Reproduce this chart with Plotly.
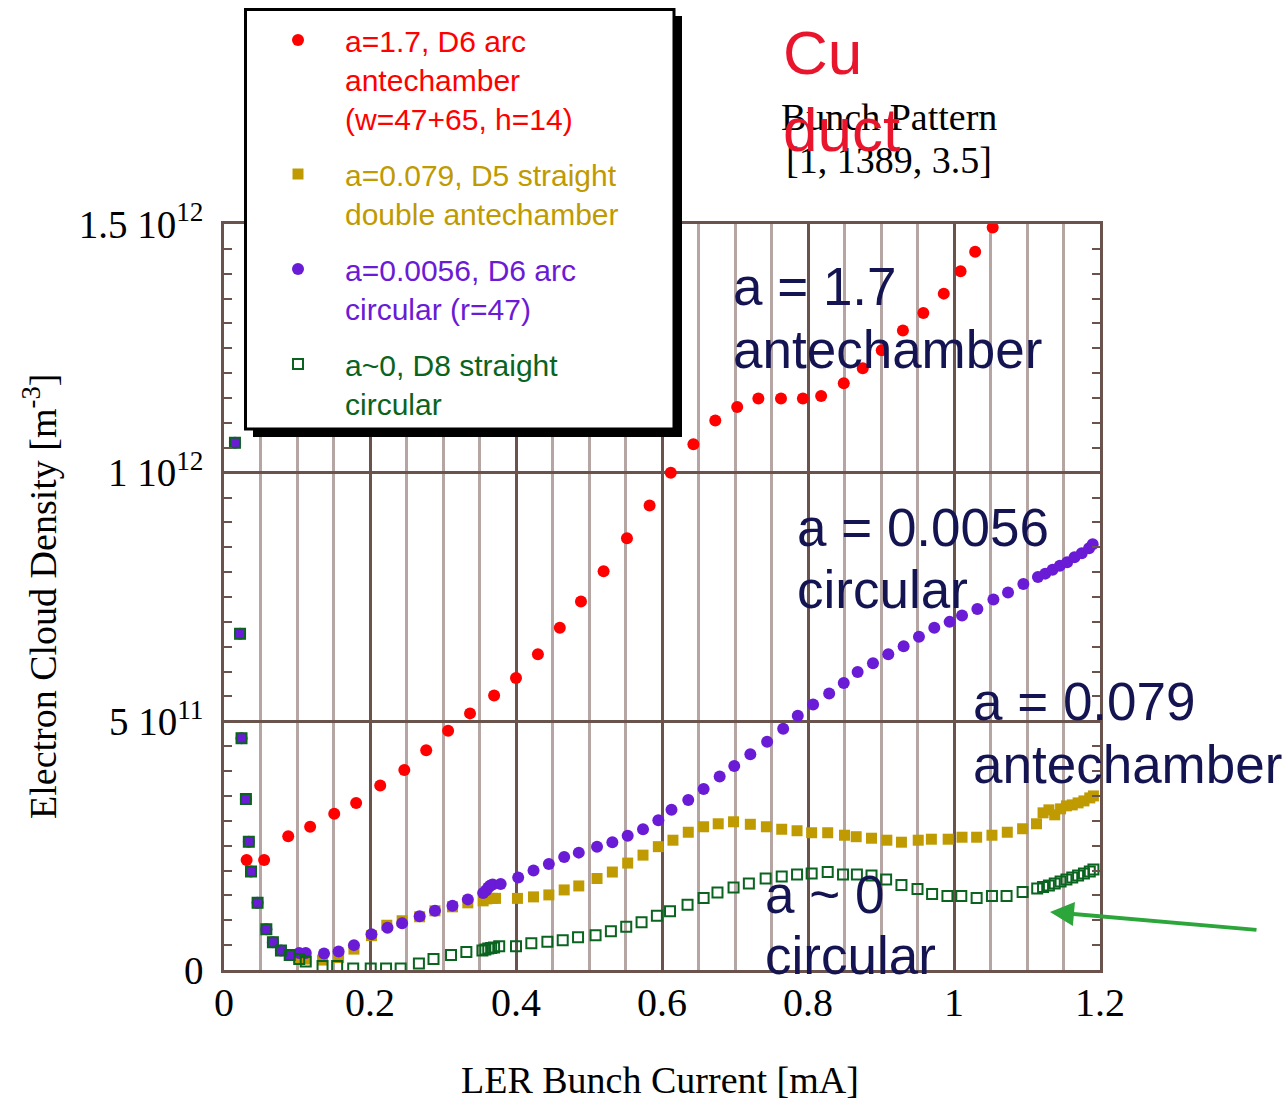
import plotly.graph_objects as go

# ---------------------------------------------------------------------------
# Data: LER bunch current [mA] vs electron cloud density (units of 1e12 m^-3)
# ---------------------------------------------------------------------------
SCALE = 1e12

# a=1.7, D6 arc antechamber
red_x = [0.031, 0.055, 0.088, 0.118, 0.151, 0.181, 0.214, 0.247, 0.277, 0.307,
         0.337, 0.370, 0.400, 0.430, 0.460, 0.489, 0.520, 0.552, 0.583, 0.612,
         0.643, 0.673, 0.703, 0.732, 0.763, 0.793, 0.818, 0.849, 0.875, 0.901,
         0.930, 0.958, 0.986, 1.009, 1.029, 1.053]
red_y = [0.221, 0.221, 0.269, 0.288, 0.314, 0.336, 0.371, 0.402, 0.442, 0.481,
         0.516, 0.552, 0.587, 0.635, 0.688, 0.741, 0.802, 0.868, 0.934, 1.000,
         1.057, 1.105, 1.132, 1.149, 1.149, 1.149, 1.154, 1.180, 1.210, 1.246,
         1.286, 1.321, 1.360, 1.405, 1.444, 1.493]

# a=0.079, D5 straight double antechamber
gold_x = [0.015, 0.022, 0.024, 0.030, 0.034, 0.037, 0.046, 0.058, 0.067, 0.078,
          0.090, 0.103, 0.112, 0.135, 0.157, 0.178, 0.202, 0.223, 0.244, 0.268,
          0.289, 0.313, 0.334, 0.355, 0.360, 0.364, 0.368, 0.372, 0.402, 0.424,
          0.445, 0.466, 0.486, 0.511, 0.532, 0.553, 0.574, 0.595, 0.615, 0.636,
          0.657, 0.677, 0.698, 0.721, 0.743, 0.764, 0.785, 0.805, 0.827, 0.850,
          0.866, 0.887, 0.908, 0.928, 0.951, 0.969, 0.992, 1.011, 1.031, 1.052,
          1.073, 1.094, 1.113, 1.122, 1.130, 1.138, 1.146, 1.154, 1.162, 1.170,
          1.178, 1.186, 1.191]
gold_y = [1.060, 0.676, 0.466, 0.344, 0.258, 0.198, 0.135, 0.082, 0.056, 0.039,
          0.030, 0.025, 0.022, 0.020, 0.025, 0.042, 0.069, 0.090, 0.099, 0.107,
          0.119, 0.127, 0.135, 0.139, 0.143, 0.144, 0.144, 0.144, 0.144, 0.147,
          0.151, 0.161, 0.169, 0.184, 0.197, 0.215, 0.231, 0.248, 0.261, 0.277,
          0.288, 0.294, 0.298, 0.293, 0.288, 0.283, 0.280, 0.276, 0.276, 0.271,
          0.268, 0.265, 0.261, 0.257, 0.261, 0.263, 0.263, 0.267, 0.267, 0.271,
          0.277, 0.284, 0.294, 0.316, 0.322, 0.312, 0.324, 0.330, 0.332, 0.336,
          0.340, 0.346, 0.350]

# a=0.0056, D6 arc circular (r=47)
purple_x = [0.015, 0.022, 0.024, 0.030, 0.034, 0.037, 0.046, 0.058, 0.067, 0.078,
            0.090, 0.103, 0.112, 0.137, 0.157, 0.178, 0.202, 0.224, 0.244, 0.268,
            0.289, 0.313, 0.334, 0.355, 0.359, 0.362, 0.365, 0.368, 0.379, 0.403,
            0.424, 0.445, 0.466, 0.486, 0.511, 0.532, 0.553, 0.574, 0.595, 0.613,
            0.636, 0.657, 0.679, 0.699, 0.721, 0.744, 0.766, 0.786, 0.807, 0.829,
            0.849, 0.868, 0.889, 0.910, 0.931, 0.952, 0.973, 0.994, 1.011, 1.032,
            1.054, 1.074, 1.095, 1.115, 1.125, 1.135, 1.145, 1.155, 1.165, 1.175,
            1.185, 1.190]
purple_y = [1.060, 0.676, 0.466, 0.344, 0.258, 0.198, 0.135, 0.082, 0.056, 0.039,
            0.030, 0.034, 0.034, 0.033, 0.037, 0.050, 0.072, 0.085, 0.094, 0.108,
            0.119, 0.129, 0.142, 0.155, 0.160, 0.166, 0.170, 0.172, 0.173, 0.186,
            0.200, 0.213, 0.227, 0.236, 0.248, 0.257, 0.270, 0.283, 0.301, 0.322,
            0.342, 0.364, 0.389, 0.410, 0.434, 0.459, 0.485, 0.511, 0.534, 0.556,
            0.577, 0.599, 0.617, 0.635, 0.651, 0.670, 0.688, 0.700, 0.713, 0.726,
            0.745, 0.759, 0.776, 0.790, 0.797, 0.805, 0.813, 0.820, 0.830, 0.838,
            0.848, 0.856]

# a~0, D8 straight circular
green_x = [0.015, 0.022, 0.024, 0.030, 0.034, 0.037, 0.046, 0.058, 0.067, 0.078,
           0.090, 0.103, 0.112, 0.135, 0.155, 0.177, 0.201, 0.222, 0.242, 0.267,
           0.287, 0.311, 0.332, 0.354, 0.358, 0.362, 0.366, 0.370, 0.377, 0.400,
           0.421, 0.443, 0.464, 0.485, 0.509, 0.530, 0.551, 0.572, 0.593, 0.611,
           0.635, 0.657, 0.676, 0.698, 0.719, 0.742, 0.764, 0.785, 0.805, 0.827,
           0.848, 0.867, 0.887, 0.907, 0.928, 0.950, 0.970, 0.991, 1.010, 1.031,
           1.052, 1.072, 1.094, 1.114, 1.122, 1.130, 1.138, 1.146, 1.154, 1.162,
           1.170, 1.178, 1.186, 1.191]
green_y = [1.060, 0.676, 0.466, 0.344, 0.258, 0.198, 0.135, 0.082, 0.056, 0.039,
           0.030, 0.022, 0.017, 0.008, 0.008, 0.003, 0.003, 0.003, 0.003, 0.013,
           0.022, 0.030, 0.036, 0.039, 0.041, 0.043, 0.044, 0.045, 0.048, 0.048,
           0.054, 0.057, 0.060, 0.066, 0.070, 0.078, 0.087, 0.096, 0.109, 0.118,
           0.131, 0.145, 0.156, 0.166, 0.174, 0.184, 0.188, 0.192, 0.194, 0.197,
           0.192, 0.192, 0.190, 0.182, 0.171, 0.163, 0.153, 0.149, 0.149, 0.145,
           0.149, 0.149, 0.157, 0.164, 0.167, 0.170, 0.174, 0.178, 0.182, 0.186,
           0.190, 0.194, 0.198, 0.202]

x_tickvals = [0, 0.2, 0.4, 0.6, 0.8, 1.0, 1.2]
x_ticktext = ["0", "0.2", "0.4", "0.6", "0.8", "1", "1.2"]
y_tickvals = [0, 5e11, 1e12, 1.5e12]
y_ticktext = ["0", "5 10<sup>11</sup>", "1 10<sup>12</sup>", "1.5 10<sup>12</sup>"]

# ---------------------------------------------------------------------------
# Styling
# ---------------------------------------------------------------------------
RED = "#ff0000"
GOLD = "#bf9a00"
PURPLE = "#6a1bd6"
GREEN = "#0a6420"
NAVY = "#141452"
BROWN = "#6b534d"
SERIF = "Liberation Serif, Times New Roman, serif"
SANS = "Liberation Sans, Arial, sans-serif"

W, H = 1285, 1101
PL, PR, PT, PB = 224, 1100, 224, 970   # plot-area edges in page pixels


def px(x):
    """page pixel column -> paper x"""
    return (x - PL) / (PR - PL)


def py(y):
    """page pixel row -> paper y"""
    return (PB - y) / (PB - PT)


def colored(lines, color):
    return "<br>".join(f"<span style='color:{color}'>{s}</span>" for s in lines)


fig = go.Figure()

fig.add_trace(go.Scatter(
    x=red_x, y=[v * SCALE for v in red_y], mode="markers",
    marker=dict(symbol="circle", size=12, color=RED),
    name=colored(["a=1.7, D6 arc", "antechamber", "(w=47+65, h=14)"], RED),
    legendgroup="g1"))
fig.add_trace(go.Scatter(
    x=gold_x, y=[v * SCALE for v in gold_y], mode="markers",
    marker=dict(symbol="square", size=11, color=GOLD),
    name=colored(["a=0.079, D5 straight", "double antechamber"], GOLD),
    legendgroup="g2"))
fig.add_trace(go.Scatter(
    x=purple_x, y=[v * SCALE for v in purple_y], mode="markers",
    marker=dict(symbol="circle", size=12, color=PURPLE),
    name=colored(["a=0.0056, D6 arc", "circular (r=47)"], PURPLE),
    legendgroup="g3"))
fig.add_trace(go.Scatter(
    x=green_x, y=[v * SCALE for v in green_y], mode="markers",
    marker=dict(symbol="square-open", size=10, color=GREEN,
                line=dict(width=2, color=GREEN)),
    name=colored(["a~0, D8 straight", "circular"], GREEN),
    legendgroup="g4"))

fig.update_xaxes(
    range=[0, 1.2], tickvals=x_tickvals, ticktext=x_ticktext,
    showgrid=True, gridcolor=BROWN, gridwidth=2.5,
    minor=dict(dtick=0.05, tick0=0, showgrid=True, gridcolor="#b5a6a3", gridwidth=3),
    showline=True, linecolor=BROWN, linewidth=2.5, mirror=True,
    ticks="", zeroline=False,
    tickfont=dict(family=SERIF, size=40, color="black"),
    ticklabelstandoff=-5,
)
fig.update_yaxes(
    range=[0, 1.5e12], tickvals=y_tickvals, ticktext=y_ticktext,
    showgrid=True, gridcolor=BROWN, gridwidth=2.5,
    ticks="inside", ticklen=8, tickwidth=2, tickcolor=BROWN,
    minor=dict(dtick=5e10, tick0=0, ticks="inside", ticklen=8, tickwidth=2,
               tickcolor=BROWN, showgrid=False),
    showline=True, linecolor=BROWN, linewidth=2.5, mirror="allticks",
    zeroline=False,
    tickfont=dict(family=SERIF, size=39, color="black"),
    ticklabelstandoff=10,
)

# legend frame with drop shadow
shapes = [
    dict(type="rect", xref="paper", yref="paper", layer="above",
         x0=px(253), x1=px(682), y0=py(437), y1=py(16),
         fillcolor="black", line=dict(width=0)),
    dict(type="rect", xref="paper", yref="paper", layer="above",
         x0=px(245.5), x1=px(674), y0=py(429), y1=py(9.5),
         fillcolor="white", line=dict(color="black", width=3)),
]


def label(text, x, y, size, color, family=SANS, anchor="left"):
    return dict(text=text, xref="paper", yref="paper", x=px(x), y=py(y),
                xanchor=anchor, yanchor="middle", showarrow=False,
                font=dict(family=family, size=size, color=color))


annotations = [
    # curve labels
    label("a = 1.7", 731, 286, 53, NAVY),
    label("antechamber", 731, 349, 53, NAVY),
    label("a = 0.0056", 795, 527, 53, NAVY),
    label("circular", 795, 589, 53, NAVY),
    label("a = 0.079", 971, 701, 53, NAVY),
    label("antechamber", 971, 764, 53, NAVY),
    label("a ~ 0", 763, 894, 53, NAVY),
    label("circular", 763, 955, 53, NAVY),
    # run conditions
    label("Bunch Pattern", 779, 117, 38, "black", SERIF),
    label("[1, 1389, 3.5]", 784, 160, 38, "black", SERIF),
    label("Cu", 781, 52, 62, "#e8152d"),
    label("duct", 781, 129, 62, "#e8152d"),
    # axis titles
    label("LER Bunch Current [mA]", 660, 1080, 38, "black", SERIF, "center"),
    dict(text="Electron Cloud Density [m<sup>-3</sup>]", xref="paper", yref="paper",
         x=px(40), y=py(597), xanchor="center", yanchor="middle", textangle=-90,
         showarrow=False, font=dict(family=SERIF, size=38, color="black")),
    # pointer to the high-current a~0 points
    dict(text="", xref="paper", yref="paper", x=px(1050), y=py(912),
         ax=208, ay=18, axref="pixel", ayref="pixel", showarrow=True,
         arrowhead=2, arrowsize=1.2, arrowwidth=4, arrowcolor="#2ca53a"),
]

fig.update_layout(
    width=W, height=H,
    margin=dict(l=PL, r=W - PR, t=PT, b=H - PB, autoexpand=False),
    plot_bgcolor="white", paper_bgcolor="white",
    showlegend=True,
    legend=dict(x=px(251), y=py(14), xanchor="left", yanchor="top",
                bgcolor="rgba(0,0,0,0)", borderwidth=0,
                font=dict(family=SANS, size=30),
                itemwidth=84, valign="top", tracegroupgap=14,
                traceorder="grouped", itemclick=False),
    shapes=shapes,
    annotations=annotations,
)

fig.write_html("out.html")
